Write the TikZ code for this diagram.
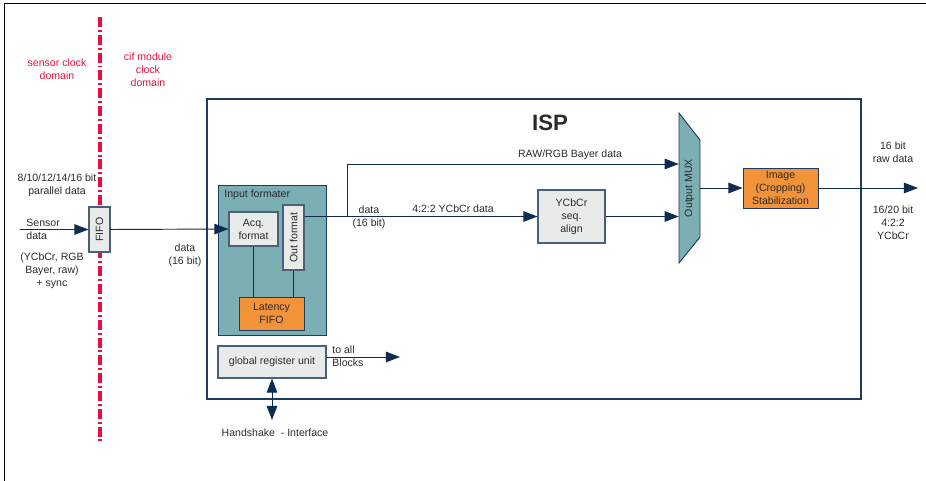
\documentclass[tikz,border=0pt]{standalone}
\usepackage{fontspec}
\setmainfont{Liberation Sans}
\usepackage{graphicx}
\definecolor{IspNavy}{HTML}{1F3A5F}
\definecolor{ArrNavy}{HTML}{0E2C52}
\definecolor{BoxGray}{HTML}{E9EBEB}
\definecolor{BoxEdge}{HTML}{4A5F7A}
\definecolor{FormTeal}{HTML}{7BAFB3}
\definecolor{LatOrange}{HTML}{F39339}
\definecolor{ClockRed}{HTML}{E5103F}
\definecolor{TextGray}{HTML}{2A2A2A}
\usetikzlibrary{arrows.meta,positioning,calc}

\begin{document}
\begin{tikzpicture}[
  x=0.03cm,y=-0.03cm,
  font=\fontsize{9}{11}\selectfont,
  txt/.style={text=TextGray,align=center,inner sep=1pt},
  redtxt/.style={text=ClockRed,align=center,inner sep=1pt},
  graybox/.style={draw=BoxEdge,line width=0.9pt,fill=BoxGray,align=center,text=TextGray,inner sep=1pt},
  orangebox/.style={draw=IspNavy,line width=0.8pt,fill=LatOrange,align=center,text=TextGray,inner sep=1pt},
  arr/.style={-{Triangle[length=12pt,width=9pt]},line width=0.8pt,color=ArrNavy},
  dblarr/.style={{Triangle[length=12pt,width=9pt]}-{Triangle[length=12pt,width=9pt]},line width=0.8pt,color=ArrNavy},
  wire/.style={line width=0.8pt,color=ArrNavy}
]
\useasboundingbox (0,0) rectangle (926,481);
% page frame
\draw[line width=0.8pt] (4,481) -- (4,3) -- (926,3);
% clock domain border
\draw[ClockRed,line width=2.8pt,dash pattern=on 8.5pt off 2.5pt on 1.7pt off 2.5pt] (100,17) -- (100,443);
\node[redtxt] (sensordom) at (57,69) {sensor clock\\domain};
\node[redtxt] (cifdom) at (148,70) {cif module\\clock\\domain};

% ISP frame
\node[draw=IspNavy,line width=1.6pt,minimum width=19.62cm,minimum height=9cm,inner sep=0pt] (isp) at (534,249) {};
\node[font=\fontsize{19}{21}\selectfont\bfseries,text=TextGray] (isptitle) at (550,123) {ISP};

% input side
\node[graybox,minimum width=0.63cm,minimum height=1.35cm,inner sep=0pt] (fifo) at (99.5,229.5) {\rotatebox{90}{FIFO}};
\coordinate (sensorin) at (20,229.5);
\node[txt,anchor=west,align=left] (sensorlbl) at (25,229.5) {Sensor\\data};
\node[txt] (parlbl) at (57,185) {8/10/12/14/16 bit\\parallel data};
\node[txt] (fmtlbl) at (52,271) {(YCbCr, RGB\\Bayer, raw)\\+ sync};

% input formater
\node[draw=IspNavy,line width=0.8pt,fill=FormTeal,minimum width=3.24cm,minimum height=4.5cm] (infmt) at (272,260) {};
\node[txt,anchor=west] (infmtlbl) at (223,195) {Input formater};
\node[graybox,minimum width=1.47cm,minimum height=1.02cm] (acq) at (253.5,229) {Acq.\\format};
\node[graybox,minimum width=0.63cm,minimum height=1.95cm,inner sep=0pt] (outfmt) at (293.5,237.5) {\rotatebox{90}{Out format}};
\node[orangebox,minimum width=1.95cm,minimum height=0.99cm] (latency) at (271.5,313.5) {Latency\\FIFO};
\node[graybox,minimum width=3.24cm,minimum height=0.96cm] (greg) at (272,362) {global register unit};

% processing
\node[graybox,minimum width=2.01cm,minimum height=1.59cm] (ycbcr) at (571.5,216.5) {YCbCr\\seq.\\align};
\draw[IspNavy,line width=0.8pt,fill=FormTeal] (679,113) -- (700,140) -- (700,237) -- (679,263) -- cycle;
\node[minimum width=0.63cm,minimum height=4.5cm,inner sep=0pt,text=TextGray] (mux) at (689.5,188) {\rotatebox{90}{Output MUX}};
\node[orangebox,minimum width=2.25cm,minimum height=1.2cm] (stab) at (780.5,188) {Image\\(Cropping)\\Stabilization};

% connectors
\draw[arr] (sensorin) -- (fifo.west);
\draw[arr] (fifo.east) -- (acq.west);
\node[txt] (datalbl) at (185,255) {data\\(16 bit)};
\draw[wire] (acq.south) -- (acq.south |- latency.north);
\draw[wire] (outfmt.south) -- (outfmt.south |- latency.north);
\draw[arr] (outfmt.east |- ycbcr.west) -- (ycbcr.west);
\node[txt] (data2lbl) at (369,217) {data\\(16 bit)};
\node[txt] (yuvlbl) at (453,209) {4:2:2 YCbCr data};
\coordinate (split) at (347,216.5);
\draw[arr] (split) |- ($(mux.west)+(0,-24)$);
\node[txt] (rawlbl) at (570,155) {RAW/RGB Bayer data};
\draw[arr] (ycbcr.east) -- (mux.west |- ycbcr.east);
\draw[arr] (mux.east) -- (stab.west);
\coordinate (outend) at (918,188);
\draw[arr] (stab.east) -- (outend);
\node[txt] (rawout) at (893,152) {16 bit\\raw data};
\node[txt] (yuvout) at (893,223) {16/20 bit\\4:2:2\\YCbCr};
\coordinate (toall) at (400,357);
\draw[arr] (greg.east |- toall) -- (toall);
\node[txt,anchor=west,align=left] (toalllbl) at (331,356) {to all\\Blocks};
\coordinate (hsend) at (272,420);
\draw[dblarr] (greg.south) -- (hsend);
\node[txt] (hslbl) at (275,433) {Handshake\ \ - Interface};
\end{tikzpicture}
\end{document}
